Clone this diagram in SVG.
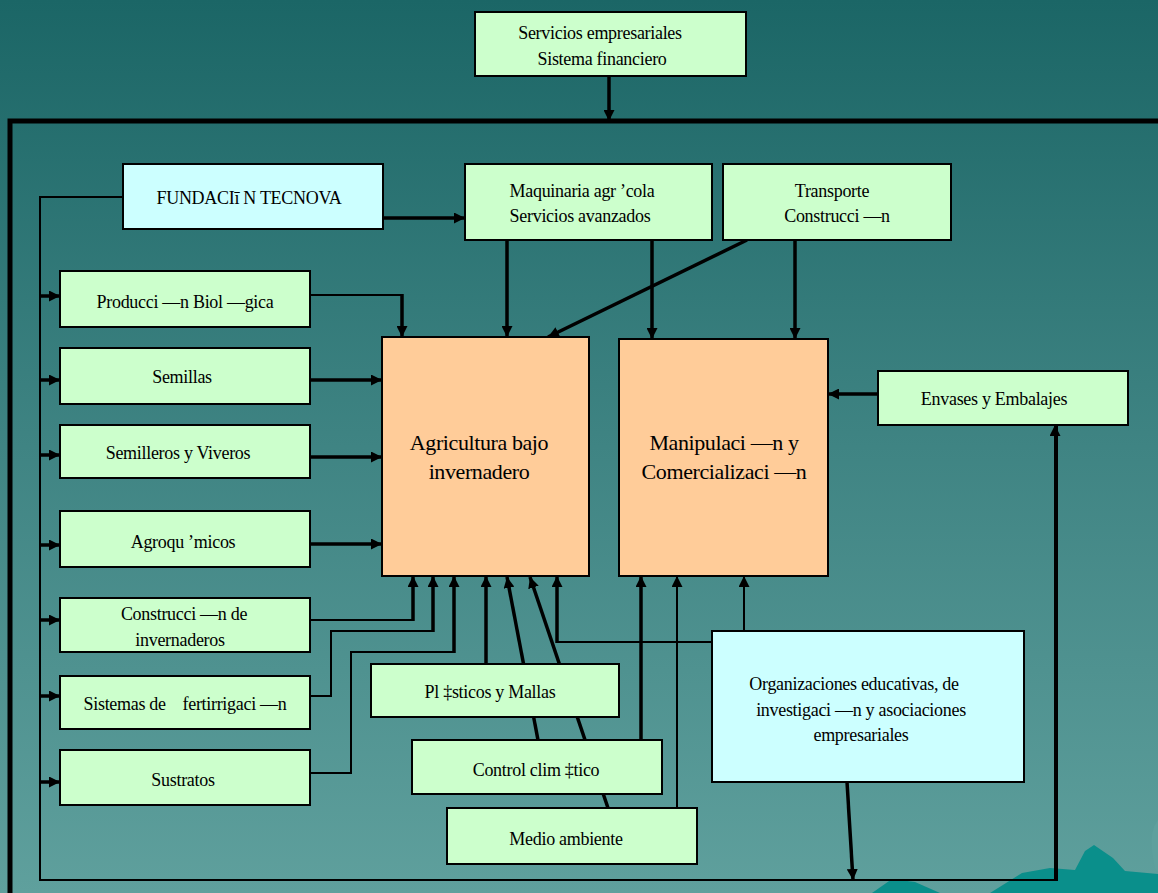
<svg xmlns="http://www.w3.org/2000/svg" width="1158" height="893" viewBox="0 0 1158 893">
<defs>
<linearGradient id="bg" x1="0" y1="0" x2="0" y2="1">
<stop offset="0" stop-color="#1b6666"/>
<stop offset="0.5" stop-color="#3f8483"/>
<stop offset="1" stop-color="#5fa09d"/>
</linearGradient>
<marker id="ah" viewBox="0 0 10 10" refX="10" refY="5" markerWidth="11" markerHeight="11" markerUnits="userSpaceOnUse" orient="auto">
<path d="M0,0 L10,5 L0,10 z" fill="#000"/>
</marker>
<style>
.g{fill:#ccffcc;stroke:#000;stroke-width:2}
.c{fill:#ccffff;stroke:#000;stroke-width:2}
.o{fill:#ffcc99;stroke:#000;stroke-width:2}
text{font-family:"Liberation Serif","Times New Roman",serif;font-size:18px;letter-spacing:-0.3px;fill:#000;text-anchor:middle}
.big{font-size:22px;letter-spacing:-0.4px}
.k{fill:none;stroke:#000;stroke-width:3.5}
.t{fill:none;stroke:#000;stroke-width:2}
.ar{marker-end:url(#ah)}
</style>
</defs>
<rect width="1158" height="893" fill="url(#bg)"/>
<g id="mountains" fill="#0a8f8b">
<polygon points="872,893 892,879 915,882 940,893"/>
<polygon points="990,893 1022,873 1050,868 1075,870 1085,851 1094,845 1113,858 1125,871 1158,874 1158,893"/>
<path d="M1158,820 Q1150,830 1152,850 Q1154,870 1158,872 Z" fill="#5fa09d"/>
</g>
<g id="frame">
<path d="M10,893 V121 H1158" fill="none" stroke="#000" stroke-width="5"/>
</g>
<g id="connectors">
<path class="k ar" d="M609,76 V121"/>
<path class="t" d="M123,197 H40 V880 H1057 V426"/>
<path class="t ar" d="M1055,880 V425"/>
<path class="k ar" d="M380,218 H465"/>
<path class="k ar" d="M40,296 H60"/>
<path class="k ar" d="M40,380 H60"/>
<path class="k ar" d="M40,455 H60"/>
<path class="k ar" d="M40,545 H60"/>
<path class="k ar" d="M40,620 H60"/>
<path class="k ar" d="M40,696 H60"/>
<path class="k ar" d="M40,782 H60"/>
<path class="k ar" d="M507,240 V337"/>
<path class="k ar" d="M652,240 V339"/>
<path class="k ar" d="M795,240 V339"/>
<path class="k ar" d="M747,240 L548,337"/>
<path class="t" d="M310,295 H402 V300"/>
<path class="k ar" d="M402,294 V337"/>
<path class="k ar" d="M310,380 H382"/>
<path class="k ar" d="M310,457 H382"/>
<path class="k ar" d="M310,544 H382"/>
<path class="k ar" d="M878,394 H828"/>
<path class="t" d="M310,620 H413"/>
<path class="k ar" d="M413,621 V576"/>
<path class="t" d="M310,696 H331 V631 H433"/>
<path class="k ar" d="M433,632 V576"/>
<path class="t" d="M310,773 H351 V652 H454"/>
<path class="k ar" d="M454,653 V576"/>
<path class="k ar" d="M486,664 V576"/>
<path class="k ar" d="M538,740 L507,577"/>
<path class="k ar" d="M608,808 L530,577"/>
<path class="t" d="M712,642 H557"/>
<path class="k ar" d="M557,643 V576"/>
<path class="k ar" d="M641,741 V576"/>
<path class="t ar" d="M677,810 V576"/>
<path class="t ar" d="M744,631 V576"/>
<path class="k ar" d="M847,782 L853,880"/>
</g>
<g id="servicios"><rect class="g" x="475" y="12" width="271" height="64"/><text x="600" y="39">Servicios empresariales</text><text x="602" y="65">Sistema financiero</text></g>
<g id="fundacion"><rect class="c" x="123" y="164" width="260" height="65"/><text x="249" y="204">FUNDACIī N TECNOVA</text></g>
<g id="maquinaria"><rect class="g" x="465" y="164" width="247" height="76"/><text x="582" y="197">Maquinaria agr ’cola</text><text x="580" y="222">Servicios avanzados</text></g>
<g id="transporte"><rect class="g" x="723" y="164" width="228" height="76"/><text x="832" y="197">Transporte</text><text x="837" y="222">Construcci —n</text></g>
<g id="produccion"><rect class="g" x="60" y="271" width="250" height="56"/><text x="185" y="308">Producci —n Biol —gica</text></g>
<g id="semillas"><rect class="g" x="60" y="348" width="250" height="56"/><text x="182" y="383">Semillas</text></g>
<g id="semilleros"><rect class="g" x="60" y="425" width="250" height="53"/><text x="178" y="459">Semilleros y Viveros</text></g>
<g id="agroquimicos"><rect class="g" x="60" y="511" width="250" height="56"/><text x="183" y="548">Agroqu ’micos</text></g>
<g id="construccion"><rect class="g" x="60" y="598" width="250" height="54"/><text x="184" y="620">Construcci —n de</text><text x="180" y="646">invernaderos</text></g>
<g id="sistemas"><rect class="g" x="60" y="676" width="250" height="53"/><text x="185" y="710" style="white-space:pre">Sistemas de    fertirrigaci —n</text></g>
<g id="sustratos"><rect class="g" x="60" y="750" width="250" height="55"/><text x="183" y="786">Sustratos</text></g>
<g id="agricultura"><rect class="o" x="382" y="337" width="207" height="239"/><text class="big" x="479" y="450">Agricultura bajo</text><text class="big" x="479" y="479">invernadero</text></g>
<g id="manipulacion"><rect class="o" x="619" y="339" width="209" height="237"/><text class="big" x="724" y="450">Manipulaci —n y</text><text class="big" x="724" y="479">Comercializaci —n</text></g>
<g id="envases"><rect class="g" x="878" y="371" width="250" height="54"/><text x="994" y="405">Envases y Embalajes</text></g>
<g id="plasticos"><rect class="g" x="371" y="664" width="248" height="53"/><text x="490" y="698">Pl ‡sticos y Mallas</text></g>
<g id="control"><rect class="g" x="412" y="740" width="250" height="54"/><text x="536" y="776">Control clim ‡tico</text></g>
<g id="medio"><rect class="g" x="447" y="808" width="250" height="56"/><text x="566" y="845">Medio ambiente</text></g>
<g id="organizaciones"><rect class="c" x="712" y="631" width="312" height="151"/><text x="854" y="690">Organizaciones educativas, de</text><text x="861" y="716">investigaci —n y asociaciones</text><text x="861" y="741">empresariales</text></g>
</svg>
